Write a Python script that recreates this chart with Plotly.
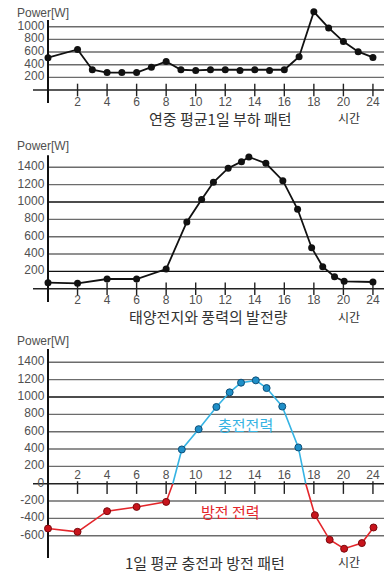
import plotly.graph_objects as go

W, H = 384, 573

# ---- data -------------------------------------------------------------
# hourly load (yearly average day)
load_hours = [0, 2, 3, 4, 5, 6, 7, 8, 9, 10, 11, 12, 13, 14, 15, 16, 17, 18, 19, 20, 21, 22]
load_watts = [510, 640, 320, 275, 275, 275, 360, 450, 320, 310, 320, 320, 310, 320, 310, 320,
              525, 1235, 980, 765, 605, 515]

# solar + wind generation
gen_hours = [0, 2, 4, 6, 8, 9.4, 10.4, 11.2, 12.2, 13.1, 13.6, 14.75, 15.9, 16.9, 17.85,
             18.6, 19.4, 20.05, 22]
gen_watts = [70, 62, 112, 112, 227, 770, 1030, 1227, 1390, 1465, 1520, 1446, 1246, 916, 473,
             254, 138, 85, 77]

# charge / discharge pattern
dis_am_hours = [0, 2, 4, 6, 8]
dis_am_watts = [-517, -555, -317, -268, -210]
chg_hours = [9.06, 10.2, 11.4, 12.3, 13.07, 14.07, 14.8, 15.86, 16.95]
chg_watts = [395, 629, 885, 1054, 1165, 1192, 1103, 890, 418]
dis_pm_hours = [18.07, 19.07, 20.05, 21.25, 22.04]
dis_pm_watts = [-363, -647, -750, -685, -505]
charge_start, charge_end = 8.45, 17.45   # zero crossings

# axis ticks
x_tickvals = [2, 4, 6, 8, 10, 12, 14, 16, 18, 20, 22]
x_ticktext = ["2", "4", "6", "8", "10", "12", "14", "16", "18", "20", "24"]
y1_ticks = [200, 400, 600, 800, 1000]
y2_ticks = [200, 400, 600, 800, 1000, 1200, 1400]
y3_ticks = [-600, -400, -200, 0, 200, 400, 600, 800, 1000, 1200, 1400]

titles = ["연중 평균1일 부하 패턴", "태양전지와 풍력의 발전량", "1일 평균 충전과 방전 패턴"]
unit_label = "Power[W]"
time_label = "시간"
charge_label = "충전전력"
discharge_label = "방전 전력"

# ---- layout geometry (pixels) ------------------------------------------
X0_PX, X_SCALE = 48.0, 14.77          # hour 0 position, px per hour
X_LEFT_PX, X_RIGHT_PX = 33.0, 384.0
x_range = [(X_LEFT_PX - X0_PX) / X_SCALE, (X_RIGHT_PX - X0_PX) / X_SCALE]
x_domain = [X_LEFT_PX / W, X_RIGHT_PX / W]


def y_axis(zero_px, scale, top_px, bot_px):
    return dict(domain=[1 - bot_px / H, 1 - top_px / H],
                range=[(zero_px - bot_px) / scale, (zero_px - top_px) / scale])


panels = [
    dict(zero=90.0, scale=0.0633, top=7.0, bot=104.0, axis_top=1106, axis_bot=-205),
    dict(zero=288.7, scale=0.0867, top=148.0, bot=304.0, axis_top=1540, axis_bot=-154),
    dict(zero=483.7, scale=0.0867, top=342.0, bot=560.0, axis_top=1553, axis_bot=-857),
]

NUM_FONT = "Liberation Sans, Arial, sans-serif"
KR_FONT = "Noto Sans CJK KR, sans-serif"
GRID = "#6c6c6c"
TXT = "#505050"

fig = go.Figure()
shapes = []
annotations = []


def axes_names(i):
    s = "" if i == 0 else str(i + 1)
    return "x" + s, "y" + s


def draw_frame(i, yticks, labels_above=False, dark=()):
    xr, yr = axes_names(i)
    p = panels[i]
    # horizontal grid lines from the value axis to the right edge
    for v in yticks:
        if v == 0:
            continue
        shapes.append(dict(type="line", xref=xr, yref=yr, x0=0, x1=x_range[1], y0=v, y1=v,
                           line=dict(color="#111" if v in dark else GRID, width=1.4),
                           layer="below"))
    # zero line
    shapes.append(dict(type="line", xref=xr, yref=yr, x0=x_range[0], x1=x_range[1], y0=0, y1=0,
                       line=dict(color="#222", width=1.6), layer="below"))
    # vertical value axis
    shapes.append(dict(type="line", xref=xr, yref=yr, x0=0, x1=0,
                       y0=p["axis_bot"], y1=p["axis_top"],
                       line=dict(color="#111", width=2), layer="below"))
    # y tick labels
    fig.add_trace(go.Scatter(x=[-0.25] * len(yticks), y=yticks, mode="text",
                             text=[str(v) for v in yticks], textposition="middle left",
                             textfont=dict(family=NUM_FONT, size=12, color=TXT),
                             cliponaxis=False, hoverinfo="skip", xaxis=xr, yaxis=yr))
    if labels_above:
        # tick marks hang below the axis, labels sit above it
        fig.add_trace(go.Scatter(x=x_tickvals, y=[-45] * len(x_tickvals), mode="markers",
                                 marker=dict(symbol="line-ns", size=9,
                                             line=dict(width=1.4, color="#222")),
                                 cliponaxis=False, hoverinfo="skip", xaxis=xr, yaxis=yr))
        fig.add_trace(go.Scatter(x=x_tickvals, y=[25] * len(x_tickvals), mode="text",
                                 text=x_ticktext, textposition="top center",
                                 textfont=dict(family=NUM_FONT, size=12, color=TXT),
                                 cliponaxis=False, hoverinfo="skip", xaxis=xr, yaxis=yr))
    else:
        fig.add_trace(go.Scatter(x=x_tickvals, y=[0] * len(x_tickvals), mode="markers+text",
                                 text=x_ticktext, textposition="bottom center",
                                 textfont=dict(family=NUM_FONT, size=12, color=TXT),
                                 marker=dict(symbol="line-ns", size=9,
                                             line=dict(width=1.4, color="#222")),
                                 cliponaxis=False, hoverinfo="skip", xaxis=xr, yaxis=yr))


draw_frame(0, y1_ticks)
draw_frame(1, y2_ticks, dark=(1000, 200))
draw_frame(2, y3_ticks, labels_above=True, dark=(1000,))

# panel 1: load
fig.add_trace(go.Scatter(x=load_hours, y=load_watts, mode="lines+markers",
                         line=dict(color="#111", width=1.8),
                         marker=dict(color="#111", size=7),
                         cliponaxis=False, xaxis="x", yaxis="y"))

# panel 2: generation
fig.add_trace(go.Scatter(x=gen_hours, y=gen_watts, mode="lines+markers",
                         line=dict(color="#111", width=1.8),
                         marker=dict(color="#111", size=7),
                         cliponaxis=False, xaxis="x2", yaxis="y2"))

# panel 3: charge / discharge
RED_LINE, RED_DOT, RED_EDGE = "#e3262b", "#c8141c", "#7a0a0e"
BLUE_LINE, BLUE_DOT, BLUE_EDGE = "#36b3e3", "#1f8fc8", "#0d4f78"

fig.add_trace(go.Scatter(x=dis_am_hours + [charge_start], y=dis_am_watts + [0], mode="lines",
                         line=dict(color=RED_LINE, width=1.6), xaxis="x3", yaxis="y3"))
fig.add_trace(go.Scatter(x=[charge_start] + chg_hours + [charge_end], y=[0] + chg_watts + [0],
                         mode="lines", line=dict(color=BLUE_LINE, width=1.6),
                         xaxis="x3", yaxis="y3"))
fig.add_trace(go.Scatter(x=[charge_end] + dis_pm_hours, y=[0] + dis_pm_watts, mode="lines",
                         line=dict(color=RED_LINE, width=1.6), xaxis="x3", yaxis="y3"))
fig.add_trace(go.Scatter(x=dis_am_hours + dis_pm_hours, y=dis_am_watts + dis_pm_watts,
                         mode="markers",
                         marker=dict(color=RED_DOT, size=7, line=dict(color=RED_EDGE, width=1)),
                         cliponaxis=False, xaxis="x3", yaxis="y3"))
fig.add_trace(go.Scatter(x=chg_hours, y=chg_watts, mode="markers",
                         marker=dict(color=BLUE_DOT, size=7, line=dict(color=BLUE_EDGE, width=1)),
                         cliponaxis=False, xaxis="x3", yaxis="y3"))


def pap(px, py):
    return px / W, 1 - py / H


def text_at(px, py, s, size, color, family=KR_FONT, xanchor="center"):
    x, y = pap(px, py)
    annotations.append(dict(xref="paper", yref="paper", x=x, y=y, text=s, showarrow=False,
                            xanchor=xanchor, yanchor="middle",
                            font=dict(family=family, size=size, color=color)))


for title, ty, unit_y, time_y, tx in [(titles[0], 118, 12.5, 117, 220),
                                      (titles[1], 316, 146, 316, 208),
                                      (titles[2], 562, 341, 561, 205)]:
    text_at(tx, ty, title, 15, "#333")
    text_at(15, unit_y, unit_label, 12, TXT, family=NUM_FONT, xanchor="left")
    text_at(349, time_y, time_label, 12, "#333")

text_at(245, 424, charge_label, 15, BLUE_LINE)
text_at(230, 511, discharge_label, 15, RED_LINE)

layout_axes = {}
for i, p in enumerate(panels):
    s = "" if i == 0 else str(i + 1)
    layout_axes["xaxis" + s] = dict(domain=x_domain, range=x_range, visible=False,
                                    anchor="y" + s, fixedrange=True)
    ya = y_axis(p["zero"], p["scale"], p["top"], p["bot"])
    layout_axes["yaxis" + s] = dict(ya, visible=False, anchor="x" + s, fixedrange=True)

fig.update_layout(width=W, height=H, margin=dict(l=0, r=0, t=0, b=0),
                  paper_bgcolor="white", plot_bgcolor="white", showlegend=False,
                  shapes=shapes, annotations=annotations, **layout_axes)

fig.write_html("out.html", config={"displayModeBar": False})
